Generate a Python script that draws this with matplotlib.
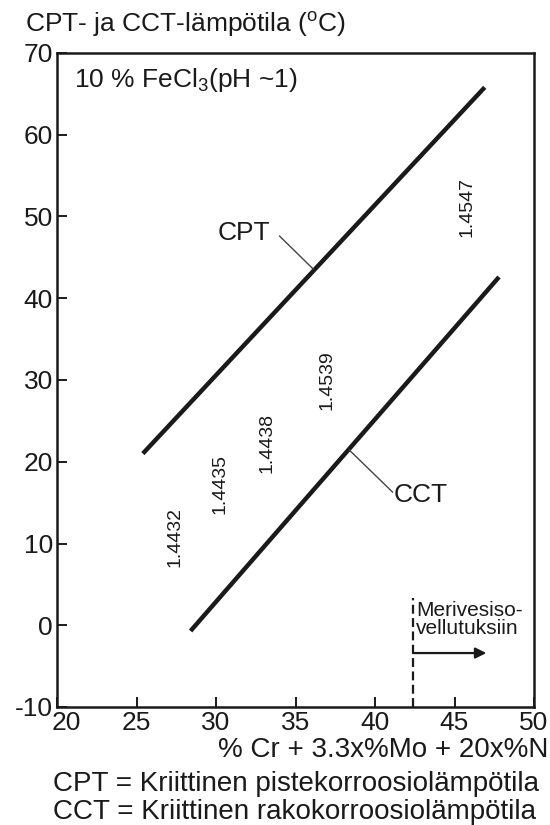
import matplotlib
matplotlib.use("Agg")
import matplotlib.pyplot as plt
from matplotlib.transforms import ScaledTranslation

plt.rcParams['font.family'] = ['Liberation Sans', 'DejaVu Sans']
plt.rcParams['mathtext.fontset'] = 'custom'
plt.rcParams['mathtext.rm'] = 'Liberation Sans'
plt.rcParams['mathtext.it'] = 'Liberation Sans:italic'
plt.rcParams['axes.unicode_minus'] = False

# PRE-luku (x) ja lämpötila (y), suorien päätepisteet
cpt_x = [25.4, 46.9]
cpt_y = [21.0, 65.8]
cct_x = [28.4, 47.8]
cct_y = [-0.7, 42.6]

# teräslaatujen merkinnät
grades = ['1.4432', '1.4435', '1.4438', '1.4539', '1.4547']
grade_x = [27.4, 30.25, 33.2, 37.0, 45.8]
grade_y = [10.8, 17.3, 22.3, 30.0, 51.2]

sea_limit = 42.4
xticks = [20, 25, 30, 35, 40, 45, 50]
yticks = [-10, 0, 10, 20, 30, 40, 50, 60, 70]

ink = '#1a1a1a'
fs = 19

fig = plt.figure(figsize=(5.5, 8.25), dpi=100)
ax = fig.add_axes([57/550, 1-707/825, 477/550, 654/825])

ax.plot(cpt_x, cpt_y, color=ink, lw=3.2, solid_capstyle='butt')
ax.plot(cct_x, cct_y, color=ink, lw=3.2, solid_capstyle='butt')

for g, gx, gy in zip(grades, grade_x, grade_y):
    ax.text(gx, gy, g, rotation=90, ha='center', va='center', fontsize=14, color=ink)

# nimiöt viivoineen
ax.plot([34.0, 36.1], [47.6, 43.6], color='#444', lw=1.0)
ax.text(33.4, 48.0, 'CPT', ha='right', va='center', fontsize=fs, color=ink)
ax.plot([38.4, 41.1], [21.4, 16.3], color='#444', lw=1.0)
ax.text(41.2, 15.9, 'CCT', ha='left', va='center', fontsize=fs, color=ink)

ax.text(21.1, 66.7, '10 % FeCl$_3$(pH ~1)', ha='left', va='center', fontsize=fs, color=ink)

# meriveden raja
ax.plot([sea_limit, sea_limit], [-10, 3.3], color=ink, lw=1.6, dashes=(4, 2))
ax.text(sea_limit + 0.2, -1.5, 'Merivesiso-\nvellutuksiin', ha='left', va='bottom',
        fontsize=15, color=ink, linespacing=0.9)
ax.annotate('', xy=(47.0, -3.4), xytext=(sea_limit, -3.4),
            arrowprops=dict(arrowstyle='-|>', color=ink, lw=1.6, mutation_scale=16,
                            shrinkA=0, shrinkB=0))

ax.set_xlim(20, 50)
ax.set_ylim(-10, 70)
ax.set_xticks(xticks)
ax.set_yticks(yticks)
ax.tick_params(direction='in', length=7, width=1.4, color=ink, labelsize=fs,
               labelcolor=ink, pad=3)
for s in ax.spines.values():
    s.set_linewidth(1.8)
    s.set_color(ink)

# ensimmäinen x-luku hieman oikealle, ettei osu -10:een
lbl = ax.get_xticklabels()[0]
lbl.set_transform(lbl.get_transform() + ScaledTranslation(9/100, 0, fig.dpi_scale_trans))

fig.text(25/550, 1-25/825, 'CPT- ja CCT-lämpötila ($^{\\mathrm{o}}$C)', ha='left',
         va='center', fontsize=fs, color=ink)
fig.text(548/550, 1-750/825, '% Cr + 3.3x%Mo + 20x%N', ha='right', va='center',
         fontsize=20, color=ink)
fig.text(53/550, 1-784/825, 'CPT = Kriittinen pistekorroosiolämpötila', ha='left',
         va='center', fontsize=20, color=ink)
fig.text(53/550, 1-812/825, 'CCT = Kriittinen rakokorroosiolämpötila', ha='left',
         va='center', fontsize=20, color=ink)

fig.savefig('out.png', dpi=100)
